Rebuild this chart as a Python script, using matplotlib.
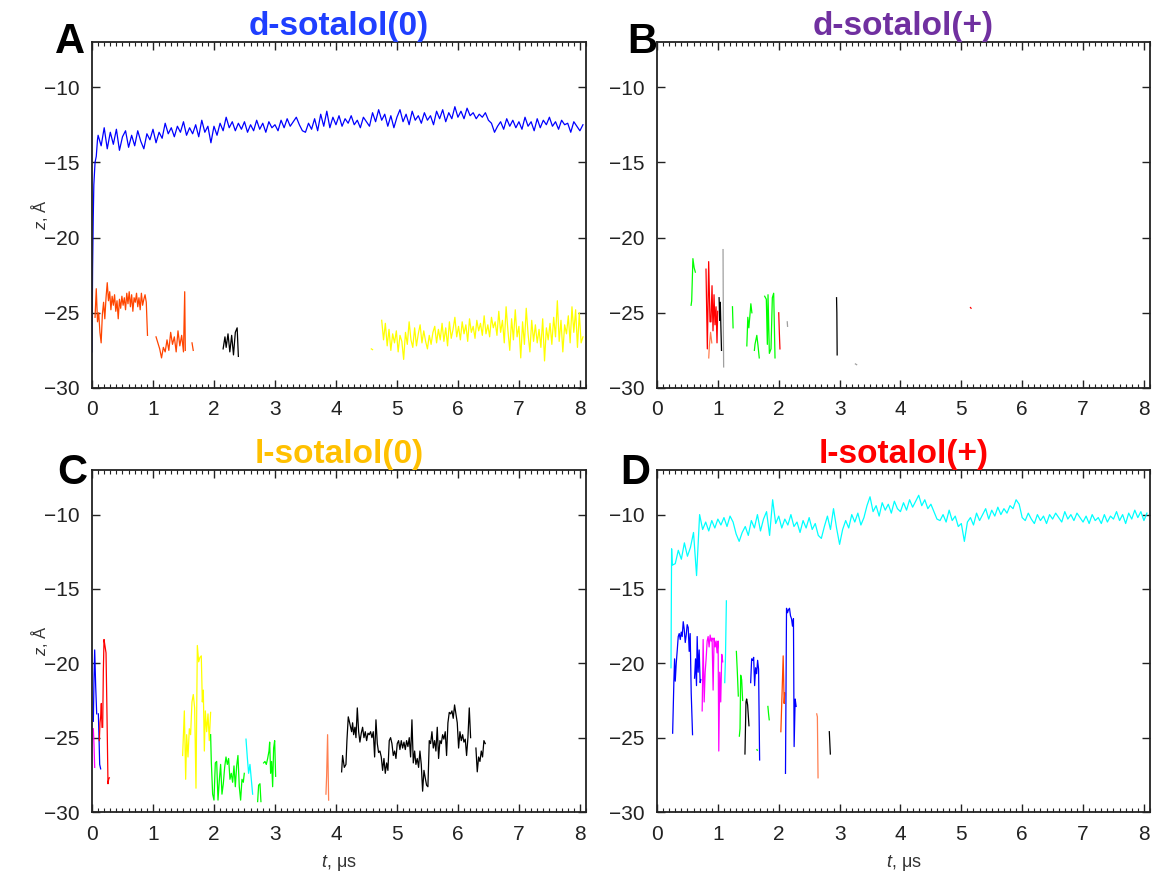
import matplotlib
matplotlib.use('Agg')
import matplotlib.pyplot as plt
from matplotlib.ticker import MultipleLocator

plt.rcParams['font.family'] = ['Liberation Sans', 'DejaVu Sans']
plt.rcParams['mathtext.fontset'] = 'custom'
plt.rcParams['mathtext.it'] = 'Liberation Sans:italic'
plt.rcParams['mathtext.rm'] = 'Liberation Sans'

################################################################ panel A, d-sotalol(0)
a_blue_t = [0.0, 0.01, 0.02, 0.03, 0.05, 0.07, 0.09, 0.10,
            0.15, 0.20, 0.25, 0.30, 0.35, 0.40, 0.45, 0.50, 0.55, 0.60, 0.65, 0.70, 0.75, 0.80, 0.85, 0.90, 0.95, 1.00,
            1.05, 1.10, 1.15, 1.20, 1.25, 1.30, 1.35, 1.40, 1.45, 1.50, 1.55, 1.60, 1.65, 1.70, 1.75, 1.80, 1.85, 1.90, 1.95, 2.00,
            2.05, 2.10, 2.15, 2.20, 2.25, 2.30, 2.35, 2.40, 2.45, 2.50, 2.55, 2.60, 2.65, 2.70, 2.75, 2.80, 2.85, 2.90, 2.95, 3.00,
            3.05, 3.10, 3.15, 3.20, 3.25, 3.30, 3.35, 3.40, 3.45, 3.50, 3.55, 3.60, 3.65, 3.70, 3.75, 3.80, 3.85, 3.90, 3.95, 4.00,
            4.05, 4.10, 4.15, 4.20, 4.25, 4.30, 4.35, 4.40, 4.45, 4.50, 4.55, 4.60, 4.65, 4.70, 4.75, 4.80, 4.85, 4.90, 4.95, 5.00,
            5.05, 5.10, 5.15, 5.20, 5.25, 5.30, 5.35, 5.40, 5.45, 5.50, 5.55, 5.60, 5.65, 5.70, 5.75, 5.80, 5.85, 5.90, 5.95, 6.00,
            6.05, 6.10, 6.15, 6.20, 6.25, 6.30, 6.35, 6.40, 6.45, 6.50, 6.55, 6.60, 6.65, 6.70, 6.75, 6.80, 6.85, 6.90, 6.95, 7.00,
            7.05, 7.10, 7.15, 7.20, 7.25, 7.30, 7.35, 7.40, 7.45, 7.50, 7.55, 7.60, 7.65, 7.70, 7.75, 7.80, 7.85, 7.90, 7.95, 8.00, 8.05]
a_blue_z = [-27.6, -22.0, -18.8, -16.5, -15.0, -14.6, -13.5, -13.2,
            -13.9, -12.7, -14.1, -13.0, -13.8, -12.8, -14.2, -13.3, -12.9, -14.0, -13.2, -13.9, -12.9, -13.6, -14.1, -13.1, -13.5, -12.8,
            -13.7, -13.0, -13.4, -12.4, -13.1, -12.7, -13.3, -12.6, -13.0, -12.3, -13.2, -12.7, -13.1, -12.5, -13.3, -12.2, -13.0, -12.6, -13.7, -12.6,
            -13.2, -12.4, -12.9, -12.0, -12.7, -12.3, -12.9, -12.4, -12.8, -12.3, -13.0, -12.5, -12.9, -12.2, -12.8, -12.4, -13.0, -12.3, -12.7, -12.5,
            -12.9, -12.2, -12.7, -12.1, -12.6, -12.3, -12.0, -12.5, -12.9, -13.0, -12.4, -12.8, -12.1, -12.9, -11.8, -12.6, -11.6, -12.7, -12.0, -12.5,
            -11.9, -12.6, -12.1, -12.4, -11.9, -12.5, -12.2, -12.7, -12.0, -12.3, -12.6, -11.7, -12.3, -11.5, -12.2, -11.8, -12.6, -11.9, -12.7, -12.0,
            -11.5, -12.3, -11.8, -12.5, -11.6, -12.2, -11.9, -12.4, -11.7, -12.2, -11.9, -12.5, -11.6, -12.1, -11.5, -12.3, -11.7, -12.1, -11.3, -12.0,
            -11.6, -12.1, -11.4, -11.9, -11.7, -12.1, -11.8, -12.0, -11.7, -12.2, -12.4, -13.0, -12.6, -12.3, -12.8, -12.1, -12.6, -12.2, -12.7, -12.3,
            -12.8, -12.0, -12.6, -12.3, -12.9, -12.1, -12.7, -12.2, -12.5, -12.0, -12.6, -12.3, -12.8, -12.2, -12.5, -12.4, -13.0, -12.3, -12.6, -12.9, -12.5]

a_orange1_t = [0.05, 0.07, 0.09, 0.11, 0.13, 0.15, 0.17, 0.19, 0.21, 0.23, 0.25, 0.27, 0.29, 0.31, 0.33, 0.35, 0.37, 0.39, 0.41, 0.43, 0.45, 0.47,
               0.49, 0.51, 0.53, 0.55, 0.57, 0.59, 0.61, 0.63, 0.65, 0.67, 0.69, 0.71, 0.73, 0.75, 0.77, 0.79, 0.81, 0.83, 0.85, 0.87, 0.89, 0.91]
a_orange1_z = [-25.3, -23.4, -25.6, -25.0, -26.3, -27.0, -25.1, -24.3, -25.4, -24.0, -23.0, -24.2, -23.6, -24.8, -23.9, -24.5, -23.8, -24.9, -24.2, -25.4, -24.1, -24.7,
               -23.9, -24.5, -24.0, -24.8, -23.7, -24.4, -23.6, -24.6, -23.8, -24.9, -24.0, -24.3, -23.7, -24.6, -24.0, -24.8, -23.7, -24.5, -24.1, -23.8, -24.3, -26.5]
a_orange2_t = [1.05, 1.08, 1.11, 1.14, 1.17, 1.20, 1.23, 1.26, 1.29, 1.32, 1.35, 1.38, 1.41, 1.44, 1.47, 1.50, 1.52, 1.53]
a_orange2_z = [-26.6, -27.0, -27.4, -28.0, -27.3, -27.6, -26.8, -27.5, -26.3, -27.1, -26.6, -27.6, -26.2, -27.2, -26.5, -27.6, -23.6, -27.5]
a_orange3_t = [1.64, 1.66]
a_orange3_z = [-27.0, -27.5]
a_black_t = [2.15, 2.18, 2.20, 2.23, 2.26, 2.29, 2.32, 2.35, 2.38, 2.40]
a_black_z = [-27.4, -26.6, -27.3, -26.4, -27.6, -26.5, -27.8, -26.3, -26.0, -27.9]
a_yellow1_t = [4.58, 4.60]
a_yellow1_z = [-27.4, -27.45]
a_yellow2_t = [4.75, 4.78, 4.81, 4.84, 4.87, 4.90, 4.93, 4.96, 4.99, 5.02,
               5.05, 5.08, 5.11, 5.14, 5.17, 5.20, 5.23, 5.26, 5.29, 5.32,
               5.35, 5.38, 5.41, 5.44, 5.47, 5.50, 5.53, 5.56, 5.59, 5.62,
               5.65, 5.68, 5.71, 5.74, 5.77, 5.80, 5.83, 5.86, 5.89, 5.92,
               5.95, 5.98, 6.01, 6.04, 6.07, 6.10, 6.13, 6.16, 6.19, 6.22,
               6.25, 6.28, 6.31, 6.34, 6.37, 6.40, 6.43, 6.46, 6.49, 6.52,
               6.55, 6.58, 6.61, 6.64, 6.67, 6.70, 6.73, 6.76, 6.79, 6.82,
               6.85, 6.88, 6.91, 6.94, 6.97, 7.00, 7.03, 7.06, 7.09, 7.12,
               7.15, 7.18, 7.21, 7.24, 7.27, 7.30, 7.33, 7.36, 7.39, 7.42,
               7.45, 7.48, 7.51, 7.54, 7.57, 7.60, 7.63, 7.66, 7.69, 7.72,
               7.75, 7.78, 7.81, 7.84, 7.87, 7.90, 7.93, 7.96, 7.99, 8.02, 8.05]
a_yellow2_z = [-25.5, -26.8, -25.7, -27.2, -26.1, -27.5, -26.4, -27.0, -26.2, -27.6,
               -26.5, -26.9, -28.1, -26.3, -27.1, -25.6, -26.8, -27.3, -26.0, -27.2,
               -26.4, -25.8, -27.0, -26.2, -26.9, -27.4, -26.5, -27.1, -26.3, -25.9,
               -27.0, -26.1, -26.8, -25.7, -26.9, -26.0, -27.2, -25.6, -26.7, -26.1,
               -25.3, -26.6, -25.9, -26.8, -25.6, -26.4, -25.8, -26.9, -25.4, -26.3,
               -25.9, -26.7, -25.5, -26.2, -25.7, -26.5, -25.2, -26.4, -25.8, -26.6,
               -25.3, -26.0, -25.6, -26.5, -24.9, -26.3, -25.5, -27.0, -24.6, -26.2,
               -27.5, -25.4, -26.8, -24.8, -26.6, -25.9, -28.0, -25.6, -27.1, -24.7,
               -26.4, -27.6, -25.5, -26.9, -25.8, -27.0, -26.1, -27.3, -25.4, -28.2,
               -26.0, -26.8, -25.7, -27.1, -25.3, -26.6, -24.2, -26.9, -25.5, -27.6,
               -25.8, -26.4, -25.2, -27.0, -24.6, -26.3, -24.8, -27.3, -25.0, -27.0, -26.6]

################################################################ panel B, d-sotalol(+)
b_green1_t = [0.56, 0.57, 0.59, 0.61, 0.63]
b_green1_z = [-24.5, -24.2, -21.4, -22.0, -22.3]
b_red1_t = [0.805, 0.827, 0.849, 0.871, 0.887, 0.904, 0.920, 0.937, 0.953, 0.970, 0.986, 0.997]
b_red1_z = [-22.1, -27.4, -21.6, -25.6, -25.6, -23.2, -26.2, -23.8, -25.8, -24.6, -27.0, -24.9]
b_orange_t = [0.85, 0.86, 0.88, 0.90]
b_orange_z = [-28.0, -27.2, -26.3, -27.0]
b_black1_t = [1.02, 1.03, 1.04, 1.05, 1.06]
b_black1_z = [-24.0, -25.5, -24.3, -26.0, -27.5]
b_gray1_t = [1.085, 1.09, 1.095]
b_gray1_z = [-20.8, -26.0, -28.6]
b_green2_t = [1.24, 1.25]
b_green2_z = [-24.6, -26.0]
b_green3_t = [1.476, 1.492, 1.509, 1.526, 1.542, 1.559]
b_green3_z = [-27.2, -25.3, -26.0, -25.2, -24.4, -25.0]
b_green4_t = [1.60, 1.61, 1.64, 1.66, 1.68]
b_green4_z = [-27.5, -27.1, -26.5, -27.2, -28.0]
b_green5_t = [1.769, 1.796, 1.813, 1.824, 1.846, 1.873, 1.895, 1.917, 1.939]
b_green5_z = [-23.9, -24.1, -27.1, -23.8, -27.7, -27.4, -24.0, -23.7, -28.0]
b_red2_t = [2.00, 2.01, 2.02]
b_red2_z = [-25.0, -26.3, -27.4]
b_gray2_t = [2.14, 2.145]
b_gray2_z = [-25.6, -25.9]
b_black2_t = [2.95, 2.955, 2.96]
b_black2_z = [-24.0, -25.0, -27.8]
b_gray3_t = [3.26, 3.28]
b_gray3_z = [-28.4, -28.45]
b_red3_t = [5.15, 5.16]
b_red3_z = [-24.65, -24.7]

################################################################ panel C, l-sotalol(0)
c_magenta_t = [0.022, 0.033, 0.044]
c_magenta_z = [-24.4, -25.5, -27.0]
c_blue1_t = [0.022, 0.033, 0.044, 0.060, 0.077]
c_blue1_z = [-23.9, -21.0, -19.1, -21.5, -23.4]
c_blue2_t = [0.104, 0.115, 0.126, 0.142]
c_blue2_z = [-23.4, -25.0, -26.8, -27.1]
c_red1_t = [0.120, 0.131, 0.142, 0.153, 0.164]
c_red1_z = [-25.2, -24.0, -23.6, -22.7, -24.3]
c_red2_t = [0.175, 0.186, 0.197, 0.208, 0.219, 0.230, 0.246, 0.262, 0.273, 0.284]
c_red2_z = [-24.3, -20.5, -18.4, -18.7, -19.0, -19.3, -23.5, -28.1, -27.8, -27.7]
c_yellow_t = [1.486, 1.514, 1.536, 1.552, 1.574, 1.596, 1.617, 1.639, 1.661, 1.683, 1.705, 1.727,
              1.749, 1.770, 1.792, 1.809, 1.825, 1.842, 1.858, 1.880, 1.902, 1.923, 1.945]
c_yellow_z = [-26.2, -23.2, -27.8, -24.8, -26.3, -24.4, -24.8, -22.6, -22.1, -23.0, -28.4, -18.8,
              -19.9, -19.6, -19.5, -22.6, -21.8, -25.9, -23.2, -24.6, -23.4, -25.2, -23.3]
c_green1_t = [1.945, 1.956, 1.978, 2.000, 2.022, 2.044, 2.066, 2.087, 2.109, 2.131, 2.153, 2.175, 2.197, 2.219,
              2.240, 2.262, 2.284, 2.306, 2.328, 2.350, 2.372, 2.393, 2.415, 2.437, 2.459, 2.481, 2.497]
c_green1_z = [-24.8, -26.6, -28.8, -29.2, -26.7, -26.6, -29.2, -27.9, -26.8, -28.8, -28.1, -27.0, -26.3, -26.8,
              -26.4, -27.8, -27.4, -28.0, -26.9, -28.3, -26.9, -26.2, -28.3, -29.2, -27.8, -28.0, -27.4]
c_cyan_t = [2.525, 2.546, 2.568, 2.590, 2.612, 2.634]
c_cyan_z = [-25.1, -26.3, -27.4, -26.8, -27.8, -28.8]
c_green2_t = [2.716, 2.732, 2.754, 2.770]
c_green2_z = [-29.3, -28.2, -28.1, -29.3]
c_green3_t = [2.814, 2.836, 2.858, 2.880, 2.902, 2.913, 2.929, 2.945, 2.962, 2.978, 2.995, 3.011]
c_green3_z = [-26.7, -26.6, -26.8, -26.4, -25.9, -25.3, -27.4, -26.6, -28.3, -25.7, -25.2, -27.6]
c_coral_t = [3.836, 3.847, 3.863, 3.880]
c_coral_z = [-28.8, -27.6, -24.8, -29.2]
c_black1_t = [4.093, 4.109, 4.137, 4.164, 4.180, 4.202, 4.219, 4.235, 4.257, 4.273,
              4.290, 4.311, 4.328, 4.350, 4.372, 4.393, 4.415, 4.437, 4.459, 4.481,
              4.503, 4.525, 4.546, 4.568, 4.590, 4.612, 4.634, 4.656, 4.678, 4.699,
              4.721, 4.743, 4.765, 4.787, 4.809, 4.831, 4.852, 4.874, 4.896, 4.918,
              4.940, 4.962, 4.984, 5.005, 5.027, 5.049, 5.071, 5.093, 5.115, 5.137,
              5.158, 5.180, 5.202, 5.224, 5.246, 5.268, 5.290, 5.311, 5.333, 5.355,
              5.377, 5.399, 5.421, 5.443, 5.464, 5.486, 5.508, 5.530, 5.552, 5.574,
              5.596, 5.617, 5.639, 5.661, 5.683, 5.705, 5.727, 5.749, 5.770, 5.792,
              5.814, 5.836, 5.858, 5.880, 5.902, 5.923, 5.945, 5.967, 5.989, 6.011,
              6.033, 6.055, 6.077, 6.098, 6.120, 6.142, 6.164, 6.186, 6.208]
c_black1_z = [-27.3, -26.2, -27.0, -26.8, -25.2, -23.6, -23.9, -24.2, -24.6, -24.0,
              -24.8, -24.3, -25.0, -23.0, -24.6, -25.3, -24.7, -24.3, -25.0, -24.6,
              -25.2, -24.7, -24.8, -24.6, -25.0, -24.6, -26.3, -23.8, -25.4, -26.0,
              -25.9, -26.3, -27.2, -26.4, -27.4, -26.7, -27.2, -25.2, -25.0, -25.4,
              -26.2, -25.9, -26.4, -25.4, -25.2, -25.8, -25.2, -25.7, -25.3, -25.8,
              -25.2, -25.6, -25.0, -26.3, -23.8, -26.7, -25.9, -26.8, -26.4, -27.0,
              -25.9, -26.8, -28.6, -27.2, -27.7, -28.2, -28.3, -25.2, -25.4, -24.6,
              -25.7, -25.2, -25.9, -24.3, -26.4, -25.2, -25.4, -24.8, -25.1, -24.6,
              -26.2, -24.0, -23.3, -23.4, -23.2, -23.7, -22.8, -23.4, -24.0, -25.7,
              -24.6, -25.2, -24.8, -25.3, -25.1, -26.2, -25.0, -23.0, -25.0]
c_black2_t = [6.295, 6.317, 6.339, 6.361, 6.383, 6.404, 6.426, 6.448]
c_black2_z = [-25.7, -27.3, -26.3, -26.6, -25.9, -26.3, -25.2, -25.4]

################################################################ panel D, l-sotalol(+)
d_cyan_t = [0.23, 0.24, 0.25,
            0.30, 0.35, 0.40, 0.45, 0.50, 0.55, 0.60, 0.65, 0.70, 0.75, 0.80, 0.85, 0.90, 0.95, 1.00,
            1.05, 1.10, 1.15, 1.20, 1.25, 1.30, 1.35, 1.40, 1.45, 1.50, 1.55, 1.60, 1.65, 1.70, 1.75, 1.80, 1.85, 1.90, 1.95, 2.00,
            2.05, 2.10, 2.15, 2.20, 2.25, 2.30, 2.35, 2.40, 2.45, 2.50, 2.55, 2.60, 2.65, 2.70, 2.75, 2.80, 2.85, 2.90, 2.95, 3.00,
            3.05, 3.10, 3.15, 3.20, 3.25, 3.30, 3.35, 3.40, 3.45, 3.50, 3.55, 3.60, 3.65, 3.70, 3.75, 3.80, 3.85, 3.90, 3.95, 4.00,
            4.05, 4.10, 4.15, 4.20, 4.25, 4.30, 4.35, 4.40, 4.45, 4.50, 4.55, 4.60, 4.65, 4.70, 4.75, 4.80, 4.85, 4.90, 4.95, 5.00,
            5.05, 5.10, 5.15, 5.20, 5.25, 5.30, 5.35, 5.40, 5.45, 5.50, 5.55, 5.60, 5.65, 5.70, 5.75, 5.80, 5.85, 5.90, 5.95, 6.00,
            6.05, 6.10, 6.15, 6.20, 6.25, 6.30, 6.35, 6.40, 6.45, 6.50, 6.55, 6.60, 6.65, 6.70, 6.75, 6.80, 6.85, 6.90, 6.95, 7.00,
            7.05, 7.10, 7.15, 7.20, 7.25, 7.30, 7.35, 7.40, 7.45, 7.50, 7.55, 7.60, 7.65, 7.70, 7.75, 7.80, 7.85, 7.90, 7.95, 8.00, 8.05]
d_cyan_z = [-20.3, -12.3, -13.4,
            -13.3, -12.4, -13.0, -11.9, -12.8, -12.2, -11.2, -14.1, -10.0, -11.0, -10.5, -11.1, -10.4, -10.9, -10.3,
            -10.7, -10.2, -10.8, -10.1, -10.5, -11.3, -11.8, -11.2, -10.8, -11.4, -10.4, -10.9, -10.0, -11.1, -10.3, -9.8, -11.4, -9.0, -10.6, -10.1,
            -10.9, -10.3, -10.7, -10.0, -10.8, -10.5, -11.2, -10.4, -10.9, -10.2, -11.0, -10.6, -11.4, -11.6, -10.8, -10.1, -11.0, -9.6, -10.9, -12.0,
            -11.0, -10.4, -10.9, -10.0, -10.5, -9.9, -10.7, -10.2, -9.4, -8.8, -9.8, -9.4, -10.1, -9.2, -9.7, -9.3, -9.9, -9.1, -9.6, -9.8,
            -9.2, -9.7, -9.0, -9.5, -9.1, -8.7, -9.4, -9.0, -9.6, -9.3, -9.8, -10.3, -10.4, -10.0, -10.5, -9.7, -10.4, -10.1, -10.8, -10.6,
            -11.8, -10.5, -10.2, -10.7, -9.9, -10.4, -10.0, -9.6, -10.3, -9.7, -10.1, -9.5, -10.0, -9.6, -9.9, -9.4, -9.6, -9.0, -9.3, -10.2,
            -10.4, -9.9, -10.3, -10.6, -10.0, -10.4, -10.1, -10.6, -10.0, -10.3, -9.9, -10.2, -10.5, -9.8, -10.3, -10.0, -10.4, -9.9, -10.2, -10.5,
            -10.1, -10.6, -10.0, -10.4, -10.2, -10.6, -10.0, -10.5, -10.1, -10.3, -9.8, -10.4, -10.0, -10.6, -9.9, -10.3, -9.7, -10.2, -9.8, -10.4, -9.9]
d_cyan2_t = [1.113, 1.125, 1.14]
d_cyan2_z = [-21.3, -19.6, -15.8]
d_blue1_t = [0.257, 0.278, 0.289, 0.300, 0.316, 0.333, 0.349, 0.365, 0.382, 0.398, 0.414,
             0.431, 0.447, 0.464, 0.480, 0.496, 0.513, 0.529, 0.545, 0.562, 0.584]
d_blue1_z = [-24.7, -21.1, -19.7, -21.2, -20.0, -19.1, -18.2, -18.0, -18.4, -17.9, -18.2,
             -17.2, -17.7, -18.6, -18.1, -17.4, -17.6, -19.2, -18.0, -22.0, -24.8]
d_blue2_t = [0.617, 0.633, 0.649, 0.660, 0.676, 0.693, 0.709, 0.720]
d_blue2_z = [-21.0, -19.7, -21.5, -18.2, -20.6, -19.1, -21.3, -21.1]
d_magenta_t = [0.742, 0.758, 0.775, 0.791, 0.807, 0.824, 0.840, 0.856, 0.873, 0.889, 0.905,
               0.922, 0.938, 0.955, 0.971, 0.987, 1.004, 1.015, 1.031, 1.047, 1.064, 1.080]
d_magenta_z = [-23.2, -18.4, -22.6, -20.6, -19.7, -18.5, -18.2, -18.9, -18.1, -18.5, -18.3,
               -21.8, -18.3, -18.9, -18.5, -19.3, -18.5, -25.9, -20.6, -22.6, -19.4, -19.9]
d_green1_t = [1.304, 1.320, 1.336]
d_green1_z = [-19.2, -20.6, -22.2]
d_green2_t = [1.353, 1.364, 1.375, 1.391, 1.407]
d_green2_z = [-24.9, -24.4, -20.8, -21.1, -22.5]
d_black1_t = [1.445, 1.462, 1.473, 1.489, 1.511]
d_black1_z = [-26.1, -22.6, -22.4, -22.8, -24.2]
d_green3_t = [1.642, 1.648]
d_green3_z = [-25.8, -25.85]
d_blue3_t = [1.539, 1.555, 1.571, 1.588, 1.604, 1.620, 1.637, 1.653, 1.669, 1.686]
d_blue3_z = [-21.3, -19.7, -19.8, -19.6, -21.5, -20.3, -20.7, -19.8, -20.4, -26.5]
d_green4_t = [1.822, 1.833, 1.844]
d_green4_z = [-22.9, -23.4, -23.8]
d_orange_t = [2.035, 2.057, 2.073, 2.089, 2.100]
d_orange_z = [-24.6, -21.7, -19.5, -22.7, -22.0]
d_blue4_t = [2.111, 2.128, 2.144, 2.160, 2.177, 2.193, 2.210, 2.226, 2.242, 2.253, 2.270, 2.286]
d_blue4_z = [-27.4, -16.3, -16.6, -16.4, -16.3, -16.8, -17.0, -17.5, -17.0, -25.6, -22.4, -22.9]
d_coral_t = [2.624, 2.635, 2.646]
d_coral_z = [-23.4, -23.6, -27.7]
d_black2_t = [2.831, 2.848]
d_black2_z = [-24.6, -26.1]

titles = ['d-sotalol(0)', 'd-sotalol(+)', 'l-sotalol(0)', 'l-sotalol(+)']
letters = ['A', 'B', 'C', 'D']
y_ticks = [-30, -25, -20, -15, -10]
x_ticks = [0, 1, 2, 3, 4, 5, 6, 7, 8]

##################################################################### styles
BLUE = '#0000ff'
ORANGE = '#ff4500'
YELLOW = '#ffff00'
GREEN = '#00ff00'
RED = '#ff0000'
CYAN = '#00ffff'
MAGENTA = '#ff00ff'
CORAL = '#ff7f50'
GRAY = '#a0a0a0'
BLACK = '#000000'

title_colors = ['#1f3fff', '#7030a0', '#ffc000', '#ff0000']

traces = [
    [(a_blue_t, a_blue_z, BLUE), (a_orange1_t, a_orange1_z, ORANGE), (a_orange2_t, a_orange2_z, ORANGE),
     (a_orange3_t, a_orange3_z, ORANGE), (a_black_t, a_black_z, BLACK), (a_yellow1_t, a_yellow1_z, YELLOW),
     (a_yellow2_t, a_yellow2_z, YELLOW)],
    [(b_green1_t, b_green1_z, GREEN), (b_red1_t, b_red1_z, RED), (b_orange_t, b_orange_z, CORAL),
     (b_black1_t, b_black1_z, BLACK), (b_gray1_t, b_gray1_z, GRAY), (b_green2_t, b_green2_z, GREEN),
     (b_green3_t, b_green3_z, GREEN), (b_green4_t, b_green4_z, GREEN), (b_green5_t, b_green5_z, GREEN),
     (b_red2_t, b_red2_z, RED), (b_gray2_t, b_gray2_z, GRAY), (b_black2_t, b_black2_z, BLACK),
     (b_gray3_t, b_gray3_z, GRAY), (b_red3_t, b_red3_z, RED)],
    [(c_magenta_t, c_magenta_z, MAGENTA), (c_blue1_t, c_blue1_z, BLUE), (c_blue2_t, c_blue2_z, BLUE),
     (c_red1_t, c_red1_z, RED), (c_red2_t, c_red2_z, RED), (c_yellow_t, c_yellow_z, YELLOW),
     (c_green1_t, c_green1_z, GREEN), (c_cyan_t, c_cyan_z, CYAN), (c_green2_t, c_green2_z, GREEN),
     (c_green3_t, c_green3_z, GREEN), (c_coral_t, c_coral_z, CORAL), (c_black1_t, c_black1_z, BLACK),
     (c_black2_t, c_black2_z, BLACK)],
    [(d_cyan_t, d_cyan_z, CYAN), (d_cyan2_t, d_cyan2_z, CYAN), (d_blue1_t, d_blue1_z, BLUE),
     (d_blue2_t, d_blue2_z, BLUE), (d_magenta_t, d_magenta_z, MAGENTA), (d_green1_t, d_green1_z, GREEN),
     (d_green2_t, d_green2_z, GREEN), (d_black1_t, d_black1_z, BLACK), (d_green3_t, d_green3_z, GREEN),
     (d_blue3_t, d_blue3_z, BLUE), (d_green4_t, d_green4_z, GREEN), (d_orange_t, d_orange_z, ORANGE),
     (d_blue4_t, d_blue4_z, BLUE), (d_coral_t, d_coral_z, CORAL), (d_black2_t, d_black2_z, BLACK)],
]

W, H = 1156, 876
fig = plt.figure(figsize=(W / 100, H / 100), dpi=100)

# axes boxes in pixels: left, top, right, bottom
boxes = [(92, 42, 586, 388), (657, 42, 1150, 388), (92, 470, 586, 812), (657, 470, 1150, 812)]
letter_pos = [(55, 53), (627, 53), (57, 484), (620, 484)]

for i in range(4):
    l, t, r, b = boxes[i]
    ax = fig.add_axes([l / W, 1 - b / H, (r - l) / W, (b - t) / H])
    for tt, zz, col in traces[i]:
        ax.plot(tt, zz, color=col, lw=0.9)

    ax.set_xlim(0, 8.1)
    ax.set_ylim(-30, -7.0)
    ax.set_xticks(x_ticks)
    ax.set_yticks(y_ticks)
    ax.xaxis.set_minor_locator(MultipleLocator(0.1))
    ax.tick_params(which='both', direction='in', top=True, right=True, labelsize=15, colors='#222222')
    ax.tick_params(which='major', length=6, width=1.0, pad=9)
    ax.tick_params(which='minor', length=3, width=0.8)
    for s in ax.spines.values():
        s.set_linewidth(1.3)
        s.set_color('#222222')

    ax.set_title(titles[i], color=title_colors[i], fontsize=24, fontweight='bold', pad=1)
    fig.text(letter_pos[i][0] / W, 1 - letter_pos[i][1] / H, letters[i], fontsize=30,
             fontweight='bold', va='baseline', ha='left')

    if i in (0, 2):
        ax.set_ylabel('$z$, Å', fontsize=12, color='#333333')
        ax.yaxis.set_label_coords(-0.085, 0.5)
    if i in (2, 3):
        ax.set_xlabel('$t$, μs', fontsize=13, color='#333333', labelpad=7)

fig.savefig('out.png', dpi=100)
